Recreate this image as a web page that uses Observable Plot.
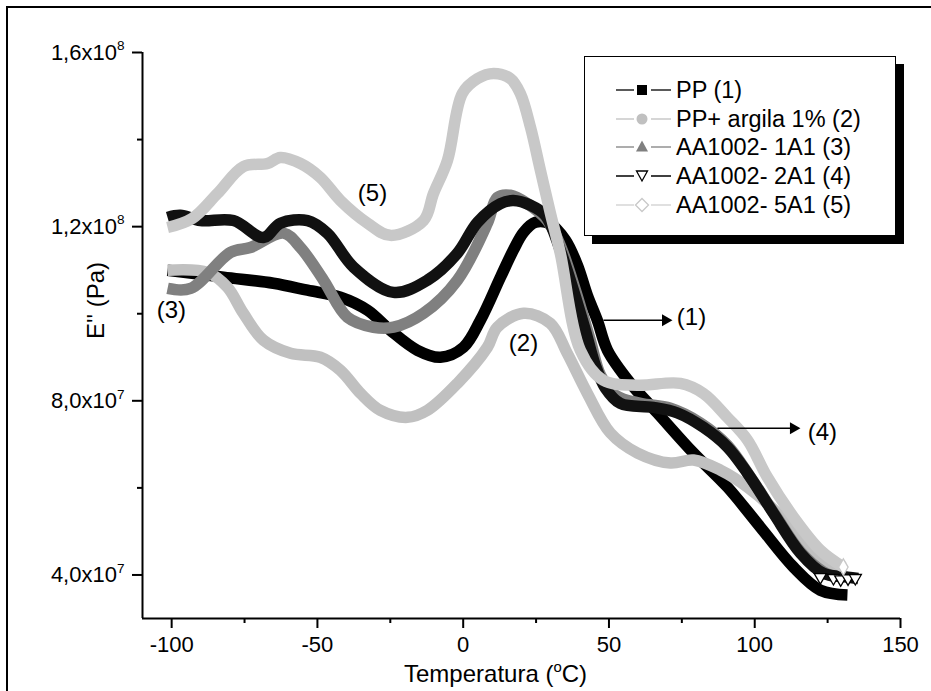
<!DOCTYPE html>
<html><head><meta charset="utf-8">
<script src="https://cdn.jsdelivr.net/npm/d3@7"></script>
<script src="https://cdn.jsdelivr.net/npm/@observablehq/plot@0.6"></script>
<style>
html,body{margin:0;padding:0;background:#fff;overflow:hidden;}
#wrap{position:relative;width:931px;height:691px;overflow:hidden;font-family:"Liberation Sans",Arial,sans-serif;background:#fff;}
#wrap svg.chart{position:absolute;left:0;top:0;}
#border{position:absolute;left:6px;top:6px;width:1000px;height:1000px;border-left:2px solid #000;border-top:2px solid #000;}
#legend{position:absolute;left:584px;top:56px;width:310px;height:178px;border:1px solid #000;background:#fff;box-shadow:8px 8px 0 #000;}
.row{position:absolute;left:0;height:28px;width:310px;}
.row svg{position:absolute;left:30px;top:0;}
.row span{position:absolute;left:91px;top:0;line-height:28px;font-size:23.5px;color:#000;white-space:nowrap;}
</style>
</head><body>
<div id="wrap"><div id="border"></div></div>
<script>
const unit = 1e7;
// PP (1)
const T1 = [-101.4,-82.2,-65.1,-53.4,-42.1,-32.8,-25.0,-15.7,-7.8,0.1,5.9,12.8,17.2,20.7,24.8,29.9,35.1,39.2,42.6,46.0,49.5,57.4,66.6,79.0,90.6,101.9,113.3,122.5,131.8];
const E1 = [11.00,10.84,10.70,10.54,10.38,10.08,9.62,9.16,9.00,9.23,9.85,10.84,11.46,11.87,12.10,12.06,11.69,11.11,10.42,9.85,9.16,8.40,7.72,6.80,6.02,5.10,4.18,3.65,3.54];
// PP+ argila 1% (2)
const T2 = [-101.4,-87.7,-80.9,-75.4,-68.5,-59.2,-49.0,-42.1,-35.2,-28.4,-19.1,-12.3,-2.0,8.3,11.7,20.7,29.9,35.7,42.6,50.5,59.8,71.1,79.0,88.2,97.5,107.8,116.7,124.9,127.7];
const E2 = [11.00,10.95,10.61,10.01,9.39,9.09,9.00,8.70,8.17,7.78,7.62,7.78,8.40,9.23,9.69,10.01,9.78,9.09,8.17,7.26,6.80,6.57,6.64,6.41,6.02,5.42,4.73,4.18,4.04];
// AA1002- 1A1 (3)
const T3 = [-101.4,-93.5,-79.8,-73.0,-61.6,-55.8,-47.9,-39.7,-30.8,-23.9,-13.6,-2.0,8.3,11.7,16.2,22.0,28.9,33.3,38.5,43.6,47.1,52.2,60.8,71.1,81.4,90.6,98.5,107.1,115.7,123.5,127.7];
const E3 = [10.58,10.58,11.41,11.52,11.85,11.52,10.77,9.92,9.69,9.69,10.01,10.77,12.08,12.67,12.72,12.53,12.14,11.57,10.54,9.39,8.59,8.13,7.94,7.83,7.49,6.98,6.25,5.37,4.53,4.07,3.95];
// AA1002- 2A1 (4)
const T4 = [-101.4,-97.0,-90.1,-78.8,-68.5,-62.7,-53.4,-46.6,-37.6,-23.9,-12.3,-2.0,4.9,12.8,17.2,23.1,28.2,33.3,37.8,41.9,45.3,48.8,53.9,65.2,73.5,82.4,90.6,97.5,106.4,115.7,123.5,131.8,135.5];
const E4 = [12.21,12.26,12.14,12.14,11.75,12.08,12.14,11.85,11.07,10.49,10.77,11.39,12.10,12.53,12.60,12.49,12.26,11.46,10.54,9.62,8.82,8.29,7.94,7.85,7.72,7.39,6.94,6.34,5.42,4.50,4.04,3.95,3.92];
const T4end = [122.5,127.0,129.5,132.0,134.5];
const E4end = [3.95,3.93,3.90,3.92,3.93];
// AA1002- 5A1 (5)
const T5 = [-101.4,-92.9,-84.3,-75.4,-67.1,-62.7,-55.8,-49.0,-42.1,-32.8,-25.0,-13.6,-10.2,-5.4,-0.3,4.9,10.4,16.2,19.6,23.1,26.5,29.9,33.3,40.2,48.1,59.8,74.5,82.4,90.6,97.5,104.3,113.3,122.5,130.4];
const E5 = [11.98,12.19,12.76,13.38,13.45,13.59,13.45,13.13,12.60,12.08,11.80,12.14,12.76,13.52,15.06,15.40,15.52,15.40,15.06,14.28,13.29,12.31,11.39,9.16,8.47,8.36,8.40,8.17,7.62,7.10,6.25,5.33,4.57,4.18];

const seriesNames = ["PP (1)", "PP+ argila 1% (2)", "AA1002- 1A1 (3)", "AA1002- 2A1 (4)", "AA1002- 5A1 (5)"];
const seriesColors = ["#000000", "#c0c0c0", "#808080", "#111111", "#c8c8c8"];
const legendLineColors = ["#000000", "#c0c0c0", "#808080", "#404040", "#d0d0d0"];
const seriesT = [T1, T2, T3, T4, T5];
const seriesE = [E1, E2, E3, E4, E5];

const xMajor = [-100, -50, 0, 50, 100, 150];
const xMinor = [-75, -25, 25, 75, 125];
const yMajor = [4e7, 8e7, 1.2e8, 1.6e8];
const yTickLabels = ["4,0x10^{7}", "8,0x10^{7}", "1,2x10^{8}", "1,6x10^{8}"];
const yMinor = [6e7, 1e8, 1.4e8];
const xTitle = "Temperatura (^{o}C)";
const yTitle = "E'' (Pa)";

const annLabels = ["(1)", "(2)", "(3)", "(4)", "(5)"];
const annT = [78.3, 20.7, -100.1, 123.2, -31.1];
const annE = [9.92, 9.32, 10.08, 7.28, 12.76];
const arrowT1 = [48.1, 87.2];
const arrowT2 = [71.1, 115.0];
const arrowE = [9.85, 7.37];

const toRows = (T, E) => T.map((t, j) => ({T: t, E: E[j] * unit}));
const annRows = annLabels.map((l, i) => ({l, T: annT[i], E: annE[i] * unit}));
const arrowRows = arrowT1.map((t, i) => ({T1: t, T2: arrowT2[i], E: arrowE[i] * unit}));

const lineMarks = seriesT.map((T, i) => Plot.line(toRows(T, seriesE[i]), {
  x: "T", y: "E", stroke: seriesColors[i], strokeWidth: 11.5, curve: "catmull-rom", strokeLinejoin: "round", strokeLinecap: "butt"
}));

const font = '"Liberation Sans", Arial, sans-serif';
const chart = Plot.plot({
  width: 931, height: 691,
  marginLeft: 142, marginRight: 31, marginTop: 52, marginBottom: 73,
  style: {fontFamily: font, fontSize: "21px", color: "#000", background: "transparent", overflow: "visible"},
  x: {domain: [-110, 150]},
  y: {domain: [3e7, 1.6e8]},
  marks: [
    ...lineMarks,
    Plot.dot(toRows(T4end, E4end), {x: "T", y: "E", symbol: "triangle", rotate: 180, r: 4.5, fill: "white", stroke: "#000", strokeWidth: 1.3}),
    Plot.dot(toRows([T5[T5.length - 1]], [E5[E5.length - 1]]), {x: "T", y: "E", symbol: "diamond", r: 5, fill: "white", stroke: "#c8c8c8", strokeWidth: 1.3}),
    Plot.ruleX([-110], {strokeWidth: 2}),
    Plot.ruleY([3e7], {strokeWidth: 2}),
    Plot.axisY({ticks: yMajor, tickSize: 10, tickPadding: 8, tickFormat: d => yTickLabels[yMajor.indexOf(d)], fontSize: 22, strokeWidth: 2, label: null}),
    Plot.axisY({ticks: yMinor, tickSize: 5, tickFormat: () => "", strokeWidth: 2, label: null}),
    Plot.axisX({ticks: xMajor, tickSize: 10, tickPadding: 8, tickFormat: d => String(d), fontSize: 22, strokeWidth: 2, label: null}),
    Plot.axisX({ticks: xMinor, tickSize: 5, tickFormat: () => "", strokeWidth: 2, label: null}),
    Plot.text([xTitle], {frameAnchor: "bottom", dx: -26, dy: 56, text: d => d, fontSize: 24, lineAnchor: "middle", textAnchor: "middle"}),
    Plot.text([yTitle], {frameAnchor: "left", dx: -46, dy: -35, rotate: -90, text: d => d, fontSize: 24, lineAnchor: "middle", textAnchor: "middle"}),
    Plot.text(annRows, {x: "T", y: "E", text: "l", fontSize: 24, lineAnchor: "middle"}),
    Plot.link(arrowRows, {x1: "T1", x2: "T2", y1: "E", y2: "E", stroke: "#000", strokeWidth: 1.5}),
    Plot.dot(arrowRows, {x: "T2", y: "E", symbol: "triangle", rotate: 90, r: 4.5, fill: "#000", stroke: "none", dx: -5})
  ]
});
chart.classList.add("chart");

// superscript handling: "^{...}"
const ns = "http://www.w3.org/2000/svg";
const wrap = document.getElementById("wrap");
wrap.appendChild(chart);
d3.select(chart).selectAll("text").each(function() {
  const s = this.textContent;
  if (!s.includes("^{")) return;
  let fs = parseFloat(window.getComputedStyle(this).fontSize) || 21;
  const parts = s.split(/(\^\{[^}]*\})/).filter(p => p.length);
  while (this.firstChild) this.removeChild(this.firstChild);
  let raised = false;
  for (const p of parts) {
    const ts = document.createElementNS(ns, "tspan");
    if (p.startsWith("^{")) {
      ts.textContent = p.slice(2, -1);
      ts.setAttribute("font-size", (fs * 0.62).toFixed(1) + "px");
      ts.setAttribute("dy", (-fs * 0.42).toFixed(1));
      raised = true;
    } else {
      ts.textContent = p;
      if (raised) { ts.setAttribute("dy", (fs * 0.42).toFixed(1)); raised = false; }
    }
    this.appendChild(ts);
  }
});

// legend
const legend = document.createElement("div");
legend.id = "legend";
const symbolsSvg = [
  c => `<rect x="22" y="9" width="10" height="10" fill="${c}"/>`,
  c => `<circle cx="27" cy="14" r="5.5" fill="${c}"/>`,
  c => `<path d="M27,7.5 L33,18.5 L21,18.5 Z" fill="${c}"/>`,
  c => `<path d="M21.5,9 L32.5,9 L27,19 Z" fill="white" stroke="#000" stroke-width="1.3"/>`,
  c => `<path d="M27,7.5 L33.5,14 L27,20.5 L20.5,14 Z" fill="white" stroke="${c}" stroke-width="1.3"/>`
];
const symColors = ["#000000", "#c0c0c0", "#808080", "#000000", "#c8c8c8"];
seriesNames.forEach((name, i) => {
  const row = document.createElement("div");
  row.className = "row";
  row.style.top = (19 + i * 28.7) + "px";
  const lc = legendLineColors[i];
  const lw = i === 3 ? 2 : 1.3;
  row.innerHTML = `<svg width="60" height="28"><line x1="1" x2="19" y1="14" y2="14" stroke="${lc}" stroke-width="${lw}"/><line x1="36" x2="56" y1="14" y2="14" stroke="${lc}" stroke-width="${lw}"/>${symbolsSvg[i](symColors[i])}</svg><span>${name}</span>`;
  legend.appendChild(row);
});
wrap.appendChild(legend);
</script>
</body></html>
